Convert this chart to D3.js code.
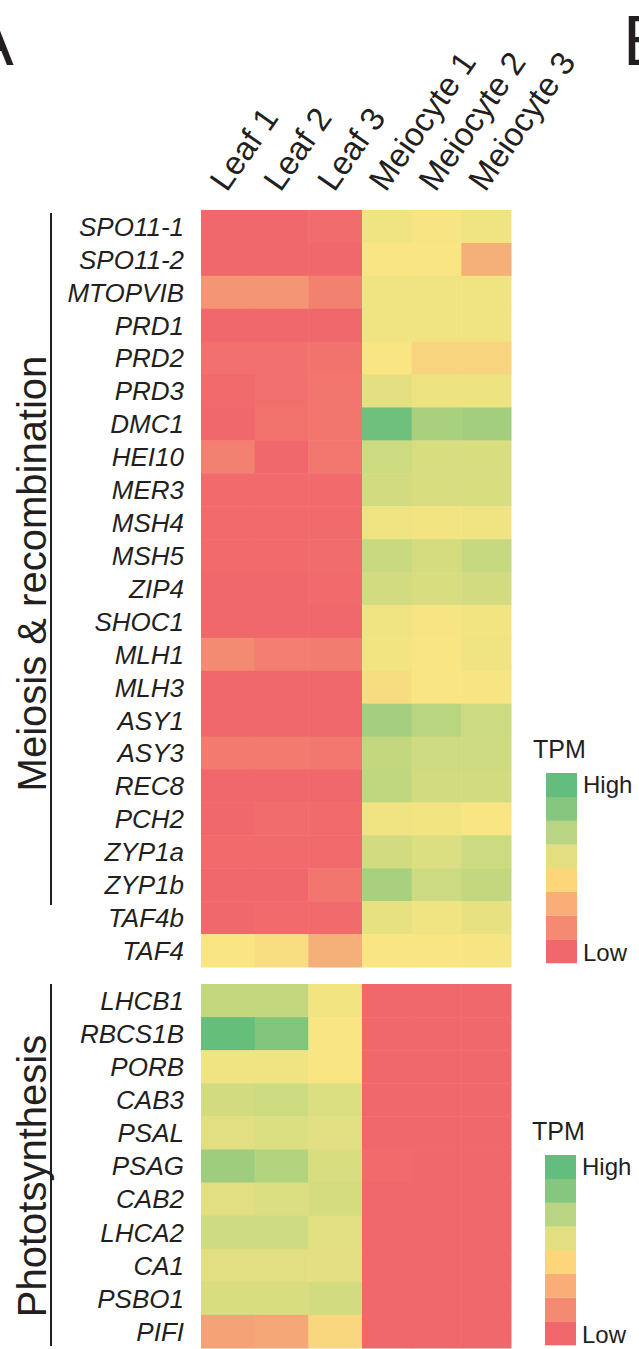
<!DOCTYPE html>
<html>
<head>
<meta charset="utf-8">
<script src="https://cdn.jsdelivr.net/npm/d3@7"></script>
<style>
  body { margin: 0; background: #fff; }
  svg text { font-family: "Liberation Sans", Arial, sans-serif; fill: #231f20; }
</style>
</head>
<body>
<svg id="grafico" width="639" height="1349"></svg>
<script>
// amostras (colunas)
const leafSamples = ["Leaf 1", "Leaf 2", "Leaf 3"];
const meioSamples = ["Meiocyte 1", "Meiocyte 2", "Meiocyte 3"];
const samples = leafSamples.concat(meioSamples);

// genes de cada bloco
const meiosisGenes = ["SPO11-1","SPO11-2","MTOPVIB","PRD1","PRD2","PRD3","DMC1","HEI10","MER3","MSH4","MSH5",
  "ZIP4","SHOC1","MLH1","MLH3","ASY1","ASY3","REC8","PCH2","ZYP1a","ZYP1b","TAF4b","TAF4"];
const photoGenes = ["LHCB1","RBCS1B","PORB","CAB3","PSAL","PSAG","CAB2","LHCA2","CA1","PSBO1","PIFI"];

// expressão relativa (0 = low, 1 = high), uma linha por gene, colunas na ordem de samples
const meiosisValues = [
  [0.00, 0.00, 0.02, 0.53, 0.51, 0.53],
  [0.00, 0.00, 0.00, 0.50, 0.50, 0.28],
  [0.18, 0.18, 0.10, 0.53, 0.53, 0.53],
  [0.00, 0.00, 0.00, 0.53, 0.53, 0.53],
  [0.035, 0.035, 0.04, 0.50, 0.43, 0.43],
  [0.01, 0.03, 0.05, 0.57, 0.54, 0.54],
  [0.00, 0.04, 0.05, 0.96, 0.77, 0.79],
  [0.10, 0.00, 0.06, 0.65, 0.61, 0.61],
  [0.01, 0.01, 0.01, 0.63, 0.61, 0.61],
  [0.01, 0.01, 0.01, 0.53, 0.52, 0.53],
  [0.01, 0.01, 0.02, 0.66, 0.62, 0.67],
  [0.00, 0.00, 0.01, 0.63, 0.61, 0.63],
  [0.00, 0.00, 0.00, 0.53, 0.51, 0.52],
  [0.135, 0.085, 0.08, 0.52, 0.50, 0.53],
  [0.00, 0.00, 0.00, 0.46, 0.50, 0.51],
  [0.00, 0.00, 0.00, 0.78, 0.71, 0.65],
  [0.07, 0.07, 0.06, 0.68, 0.64, 0.64],
  [0.00, 0.00, 0.00, 0.69, 0.63, 0.63],
  [0.00, 0.02, 0.01, 0.53, 0.52, 0.50],
  [0.01, 0.01, 0.01, 0.63, 0.60, 0.65],
  [0.00, 0.00, 0.05, 0.77, 0.65, 0.68],
  [0.00, 0.01, 0.01, 0.56, 0.53, 0.56],
  [0.50, 0.47, 0.28, 0.50, 0.50, 0.51]
];
const photoValues = [
  [0.68, 0.68, 0.52, 0.00, 0.00, 0.00],
  [0.99, 0.90, 0.50, 0.00, 0.00, 0.00],
  [0.53, 0.53, 0.50, 0.00, 0.00, 0.00],
  [0.63, 0.65, 0.60, 0.00, 0.00, 0.00],
  [0.58, 0.60, 0.58, 0.00, 0.00, 0.00],
  [0.80, 0.73, 0.61, 0.01, 0.00, 0.00],
  [0.58, 0.60, 0.62, 0.00, 0.00, 0.00],
  [0.64, 0.64, 0.58, 0.00, 0.00, 0.00],
  [0.58, 0.58, 0.57, 0.00, 0.00, 0.00],
  [0.61, 0.61, 0.63, 0.00, 0.00, 0.00],
  [0.23, 0.25, 0.44, 0.00, 0.00, 0.00]
];

// legenda TPM (de baixo para cima)
const legendColors = ["#f0686c","#f48a72","#f9ae78","#fdd57b","#e3df80","#b9d583","#86c67f","#62bd7e"];
const legendLabels = ["Low", "High"];

const svg = d3.select("#grafico");

// cores das células: vermelho -> amarelo -> verde
const color = d3.scaleLinear()
  .domain([0, 0.5, 1])
  .range(["#f1686c", "#f9e682", "#63bd7b"]);

// eixo X: folhas e meiócitos têm larguras um pouco diferentes
const xLeaf = d3.scaleBand().domain(leafSamples).range([201, 362]);
const xMeio = d3.scaleBand().domain(meioSamples).range([362, 511]);
function x(s) { return leafSamples.includes(s) ? xLeaf(s) : xMeio(s); }
function bw(s) { return leafSamples.includes(s) ? xLeaf.bandwidth() : xMeio.bandwidth(); }

const yMeiosis = d3.scaleBand().domain(meiosisGenes).range([210, 967]);
const yPhoto = d3.scaleBand().domain(photoGenes).range([984, 1348]);

function bloco(genes, values, y, titulo, linha, legenda) {
  const g = svg.append("g");
  const cells = [];
  genes.forEach((gene, i) => samples.forEach((s, j) => cells.push({gene: gene, sample: s, value: values[i][j]})));

  g.selectAll("rect.cell")
    .data(cells)
    .enter()
    .append("rect")
    .attr("class", "cell")
    .attr("x", d => x(d.sample))
    .attr("y", d => y(d.gene))
    .attr("width", d => bw(d.sample) + 0.5)
    .attr("height", y.bandwidth() + 0.5)
    .attr("fill", d => color(d.value));

  // nomes dos genes
  const yAxis = d3.axisLeft(y).tickSize(0).tickPadding(0);
  const ax = g.append("g")
    .attr("transform", "translate(184,0)")
    .call(yAxis);
  ax.select(".domain").remove();
  ax.selectAll("text")
    .attr("font-size", 26)
    .attr("font-style", "italic")
    .attr("font-family", "Liberation Sans, Arial, sans-serif")
    .attr("dy", "0.36em")
    .attr("fill", "#231f20");

  // linha vertical e título do grupo
  g.append("line")
    .attr("x1", 51).attr("x2", 51)
    .attr("y1", linha[0]).attr("y2", linha[1])
    .attr("stroke", "#231f20")
    .attr("stroke-width", 2);
  g.append("text")
    .attr("transform", "translate(46," + ((y.range()[0] + y.range()[1]) / 2 + titulo.dy) + ") rotate(-90)")
    .attr("text-anchor", "middle")
    .attr("font-size", 40)
    .text(titulo.text);

  // legenda
  const lg = svg.append("g").attr("transform", "translate(" + legenda.x + "," + legenda.y + ")");
  const ly = d3.scaleBand().domain(d3.range(legendColors.length)).range([190, 0]);
  lg.selectAll("rect")
    .data(legendColors)
    .enter()
    .append("rect")
    .attr("x", 0)
    .attr("y", (d, i) => ly(i))
    .attr("width", 31)
    .attr("height", ly.bandwidth() + 0.3)
    .attr("fill", d => d);
  lg.append("text").attr("x", -13).attr("y", -15).attr("font-size", 25).text("TPM");
  lg.append("text").attr("x", 37).attr("y", ly(7) + 20).attr("font-size", 24).text(legendLabels[1]);
  lg.append("text").attr("x", 37).attr("y", ly(0) + 22).attr("font-size", 24).text(legendLabels[0]);
}

bloco(meiosisGenes, meiosisValues, yMeiosis, {text: "Meiosis & recombination", dy: -15}, [213, 905], {x: 546, y: 773});
bloco(photoGenes, photoValues, yPhoto, {text: "Phototsynthesis", dy: 10}, [984, 1346], {x: 545, y: 1155});

// rótulos das colunas (inclinados)
svg.append("g")
  .selectAll("text")
  .data(samples)
  .enter()
  .append("text")
  .attr("transform", d => "translate(" + (x(d) + bw(d) / 2 - 1) + ",193) rotate(-55)")
  .attr("font-size", 33)
  .text(d => d);

// letras dos painéis
svg.append("text").attr("x", -33).attr("y", 65).attr("font-size", 70).text("A");
svg.append("text").attr("x", 623).attr("y", 65).attr("font-size", 70).text("B");
</script>
</body>
</html>
